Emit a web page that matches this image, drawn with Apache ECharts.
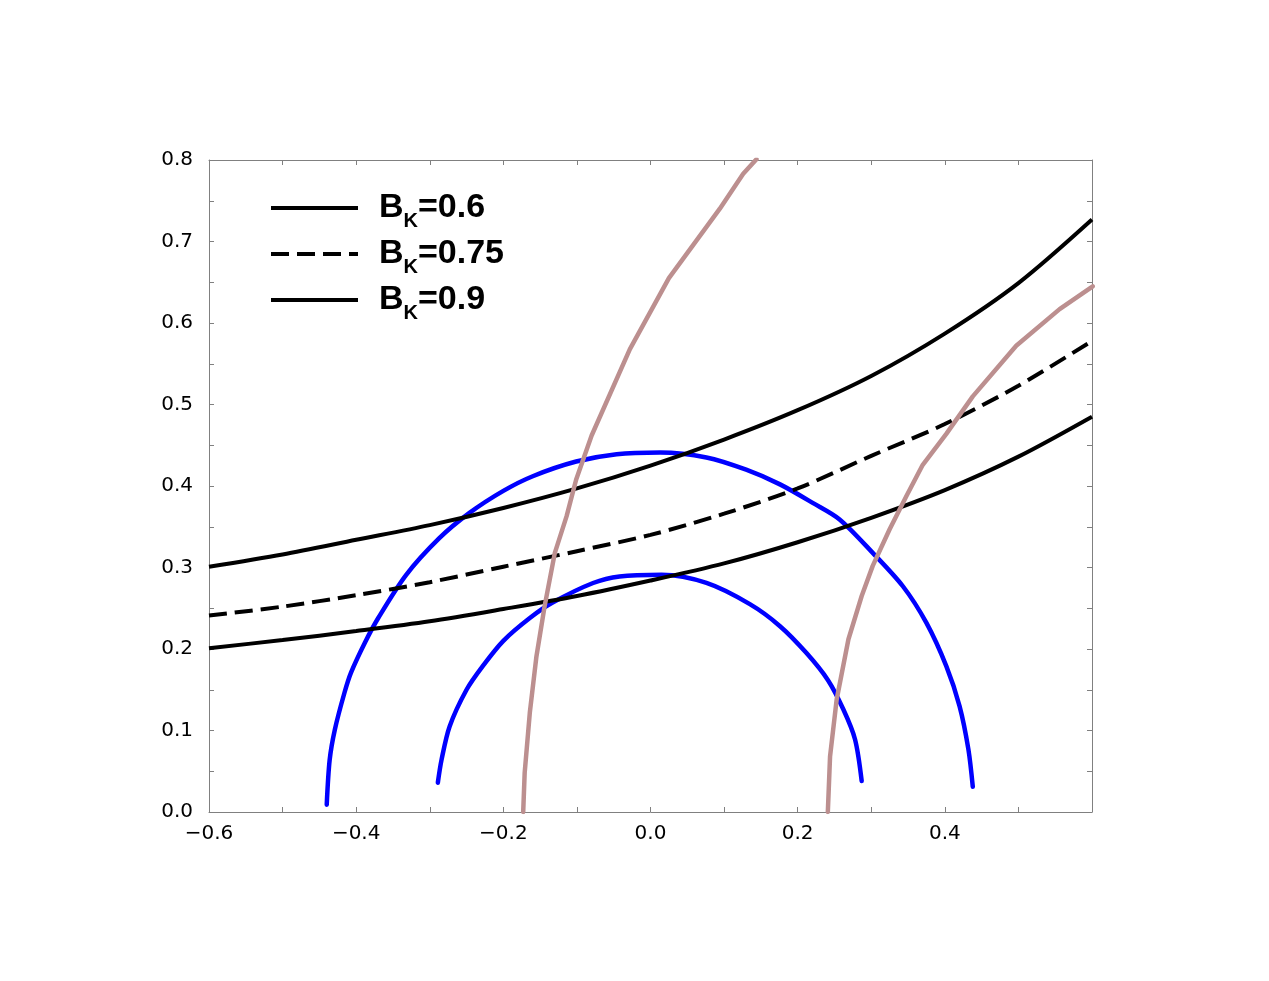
<!DOCTYPE html>
<html>
<head>
<meta charset="utf-8">
<script src="https://cdn.jsdelivr.net/npm/echarts@6/dist/echarts.min.js"></script>
<style>
  html, body { margin: 0; padding: 0; background: #fff; }
  #chart { width: 1269px; height: 981px; }
</style>
</head>
<body>
<div id="chart"></div>
<script>
// B_K curves, sampled every 0.1 along x
const xGrid = [-0.6, -0.5, -0.4, -0.3, -0.2, -0.1, 0.0, 0.1, 0.2, 0.3, 0.4, 0.5, 0.6];
const bk060 = [0.301, 0.316, 0.334, 0.352, 0.373, 0.397, 0.425, 0.457, 0.493, 0.535, 0.587, 0.649, 0.727];
const bk075 = [0.241, 0.252, 0.266, 0.282, 0.301, 0.320, 0.340, 0.366, 0.397, 0.437, 0.476, 0.523, 0.578];
const bk090 = [0.201, 0.211, 0.222, 0.234, 0.249, 0.265, 0.284, 0.305, 0.331, 0.361, 0.395, 0.436, 0.485];

// blue arcs, [x, y]
const outerArc = [
  [-0.440, 0.009], [-0.436, 0.064], [-0.429, 0.101], [-0.416, 0.146], [-0.407, 0.171],
  [-0.388, 0.208], [-0.370, 0.238], [-0.332, 0.291], [-0.287, 0.336], [-0.246, 0.367],
  [-0.200, 0.394], [-0.160, 0.412], [-0.101, 0.430], [-0.046, 0.439], [0.013, 0.441],
  [0.076, 0.435], [0.130, 0.420], [0.176, 0.402], [0.221, 0.379], [0.257, 0.359],
  [0.302, 0.318], [0.343, 0.277], [0.375, 0.232], [0.402, 0.179], [0.420, 0.130],
  [0.432, 0.077], [0.438, 0.031]
];
const innerArc = [
  [-0.289, 0.036], [-0.284, 0.064], [-0.273, 0.105], [-0.250, 0.150], [-0.228, 0.179],
  [-0.200, 0.210], [-0.164, 0.238], [-0.133, 0.257], [-0.078, 0.281], [-0.042, 0.289],
  [0.015, 0.291], [0.076, 0.281], [0.135, 0.255], [0.176, 0.228], [0.212, 0.195],
  [0.241, 0.162], [0.262, 0.126], [0.278, 0.089], [0.287, 0.038]
];

// brown curves, [x, y]
const brownLeft = [
  [-0.173, 0.000], [-0.171, 0.048], [-0.164, 0.122], [-0.155, 0.191], [-0.144, 0.252],
  [-0.130, 0.318], [-0.114, 0.363], [-0.101, 0.408], [-0.080, 0.462],
  [-0.028, 0.568], [0.025, 0.655], [0.094, 0.740], [0.126, 0.783], [0.144, 0.801]
];
const brownRight = [
  [0.241, 0.000], [0.244, 0.068], [0.253, 0.138], [0.269, 0.212], [0.287, 0.265],
  [0.302, 0.302], [0.325, 0.347], [0.348, 0.388], [0.370, 0.426], [0.402, 0.464],
  [0.438, 0.510], [0.497, 0.572], [0.556, 0.617], [0.601, 0.645]
];

const legendNames = ['0.6', '0.75', '0.9'];

const FONT = 'Liberation Sans';
const TICK_FONT = 'DejaVu Sans';
const AXIS_GRAY = '#808080';

// label every `step` tenths, typographic minus
function fmtTick(v, step) {
  const k = Math.round(v * 10);
  if (Math.abs(v * 10 - k) > 1e-6 || k % step !== 0) return '';
  const s = Math.abs(v).toFixed(1);
  return v < -1e-9 ? '\u2212' + s : s;
}

function pairs(xs, ys) {
  return xs.map((x, i) => [x, ys[i]]);
}

function bkSeries(name, ys, dashed) {
  return {
    name: name, type: 'line', data: pairs(xGrid, ys),
    symbol: 'none', smooth: 0.3, z: 3,
    itemStyle: { color: '#000' },
    lineStyle: { color: '#000', width: 4, type: dashed ? [18, 8] : 'solid', cap: 'butt' }
  };
}

function curve(data, color, width, smooth, z) {
  return {
    type: 'line', data: data, symbol: 'none', smooth: smooth, z: z,
    lineStyle: { color: color, width: width, cap: 'round', join: 'round' }
  };
}

const chart = echarts.init(document.getElementById('chart'), null, { renderer: 'canvas' });

const sideAxis = {
  axisLine: { show: true, onZero: false, lineStyle: { color: AXIS_GRAY, width: 1 } },
  axisTick: { show: true, inside: true, length: 5, lineStyle: { color: AXIS_GRAY } },
  splitLine: { show: false }
};

chart.setOption({
  animation: false,
  backgroundColor: '#fff',
  grid: { left: 209, right: 177, top: 160, bottom: 169 },
  legend: {
    data: legendNames,
    orient: 'vertical',
    left: 264, top: 186,
    itemWidth: 87, itemHeight: 14, itemGap: 6,
    itemStyle: { opacity: 0 },
    lineStyle: { width: 4 },
    formatter: n => '{g|}{b|B}{s|K}{b|=' + n + '}',
    textStyle: {
      rich: {
        g: { width: 16 },
        b: { fontFamily: FONT, fontSize: 34, fontWeight: 'bold', color: '#000', lineHeight: 34 },
        s: { fontFamily: FONT, fontSize: 20, fontWeight: 'bold', color: '#000', padding: [26, 0, 0, 0] }
      }
    }
  },
  xAxis: [
    Object.assign({}, sideAxis, {
      type: 'value', min: -0.6, max: 0.6, interval: 0.1, position: 'bottom',
      axisLabel: {
        color: '#000', fontFamily: TICK_FONT, fontSize: 20, margin: 12,
        formatter: v => (Math.abs(v - 0.6) < 1e-6 ? '' : fmtTick(v, 2))
      }
    }),
    Object.assign({}, sideAxis, {
      type: 'value', min: -0.6, max: 0.6, interval: 0.1, position: 'top',
      axisLabel: { show: false }
    })
  ],
  yAxis: [
    Object.assign({}, sideAxis, {
      type: 'value', min: 0, max: 0.8, interval: 0.05, position: 'left',
      axisLabel: { color: '#000', fontFamily: TICK_FONT, fontSize: 20, margin: 16, formatter: v => fmtTick(v, 1) }
    }),
    Object.assign({}, sideAxis, {
      type: 'value', min: 0, max: 0.8, interval: 0.05, position: 'right',
      axisLabel: { show: false }
    })
  ],
  series: [
    curve(outerArc, '#0000ff', 4.5, 0.3, 2),
    curve(innerArc, '#0000ff', 4.5, 0.3, 2),
    bkSeries(legendNames[0], bk060, false),
    bkSeries(legendNames[1], bk075, true),
    bkSeries(legendNames[2], bk090, false),
    curve(brownLeft, '#bc8f8f', 4.5, false, 4),
    curve(brownRight, '#bc8f8f', 4.5, false, 4)
  ]
});
</script>
</body>
</html>
